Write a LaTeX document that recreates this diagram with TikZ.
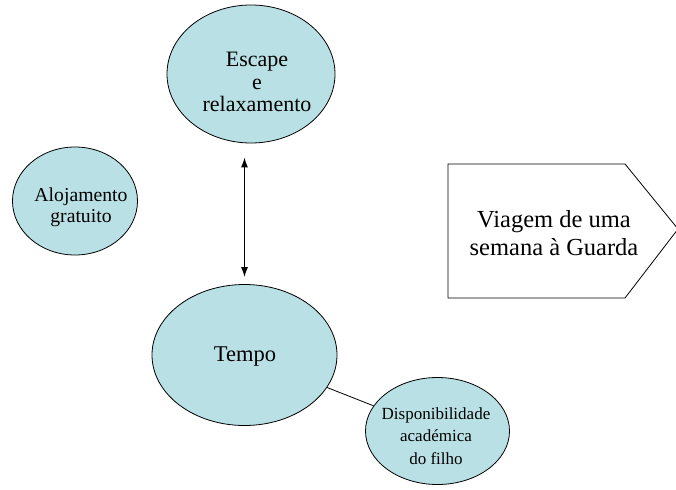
\documentclass[tikz,border=0pt]{standalone}
\usepackage{fontspec}
\setmainfont{Liberation Serif}
\usepackage{xcolor}
\usetikzlibrary{arrows.meta}
\usetikzlibrary{shapes.geometric}

\definecolor{bolhacor}{RGB}{185,224,228}

\begin{document}
\begin{tikzpicture}[x=1pt,y=-1pt,
bolha/.style={ellipse, draw, fill=bolhacor, line width=0.8, inner sep=0},
texto/.style={align=center, inner sep=0}]
\useasboundingbox (0,0) rectangle (676,489);
\clip (0,0) rectangle (676,489);

% bolhas
\node[bolha, minimum width=168, minimum height=138] (escape) at (251,74) {};
\node[bolha, minimum width=125, minimum height=108] (aloj) at (75,201) {};
\node[bolha, minimum width=185, minimum height=141] (tempo) at (244.5,355) {};
\node[bolha, minimum width=144, minimum height=107] (disp) at (437.5,431) {};

% textos
\node[texto, font=\fontsize{22}{22.5}\selectfont] (escape-txt) at (257,82) {Escape\\e\\relaxamento};
\node[texto, font=\fontsize{19.7}{21}\selectfont] (aloj-txt) at (81,207) {Alojamento\\gratuito};
\node[texto, font=\fontsize{22.5}{22.5}\selectfont] (tempo-txt) at (245,357) {Tempo};
\node[texto, font=\fontsize{17}{22.5}\selectfont] (disp-txt) at (436,436) {Disponibilidade\\acad\'emica\\do filho};

% seta
\draw[line width=0.8] (448,164) -- (625,164) -- (678,229) -- (625,298) -- (448,298) -- cycle;
\node[texto, font=\fontsize{24.5}{28}\selectfont] (viagem) at (554,233) {Viagem de uma\\semana \`a Guarda};

% ligacoes
\draw[{Latex[length=10pt,width=7pt]}-{Latex[length=10pt,width=7pt]}, line width=1.3, shorten <=14, shorten >=7] (tempo.north |- escape.south) -- (tempo.north);
\draw[line width=0.8] (tempo) -- (disp);

\end{tikzpicture}
\end{document}
